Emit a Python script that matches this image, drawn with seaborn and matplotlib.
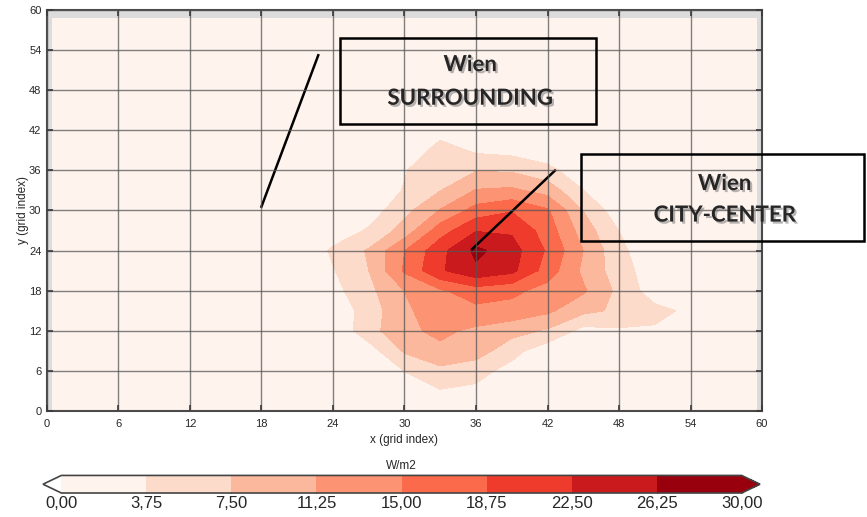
import matplotlib

matplotlib.use("Agg")
import matplotlib.patheffects as pe
import matplotlib.pyplot as plt
import numpy as np
import seaborn as sns
from matplotlib.cm import ScalarMappable
from matplotlib.colors import BoundaryNorm, ListedColormap
from matplotlib.patches import Rectangle

# grid of the model domain (grid index units)
X_COORDS = [0.5, 3, 6, 9, 12, 15, 18, 21, 24, 27, 30, 33, 36, 39, 42, 45, 48, 51, 54, 57, 59.5]
Y_COORDS = [0, 3, 6, 9, 12, 15, 18, 21, 24, 27, 30, 33, 36, 39, 42, 45, 48, 51, 54, 57, 58.7]

# non-zero part of the field (W/m2), rows = PLUME_Y, cols = PLUME_X
PLUME_X = [21, 24, 27, 30, 33, 36, 39, 42, 45, 48, 51, 54]
PLUME_Y = [0, 3, 6, 9, 12, 15, 18, 21, 24, 27, 30, 33, 36, 39, 42]
PLUME = [
    [0.0, 0.0, 0.0, 1.0, 2.0, 1.5, 0.0, 0.0, 0.0, 0.0, 0.0, 0.0],
    [0.0, 0.0, 0.5, 2.5, 3.5, 3.0, 1.5, 0.5, 0.0, 0.0, 0.0, 0.0],
    [0.0, 0.0, 1.0, 3.8, 6.5, 5.0, 2.5, 1.0, 0.0, 0.0, 0.0, 0.0],
    [0.0, 0.5, 2.0, 8.0, 10.5, 9.5, 5.0, 1.5, 1.0, 0.0, 0.0, 0.0],
    [0.0, 0.8, 6.0, 10.5, 12.0, 10.5, 9.0, 7.0, 2.5, 3.2, 3.3, 1.0],
    [0.0, 1.0, 5.5, 10.5, 13.5, 14.0, 13.5, 12.0, 8.5, 6.8, 4.8, 3.0],
    [0.0, 2.5, 6.5, 11.3, 14.5, 17.0, 16.0, 13.5, 11.8, 6.5, 1.8, 0.0],
    [0.5, 3.5, 7.5, 15.5, 22.0, 25.5, 23.5, 17.0, 10.5, 5.5, 1.5, 0.0],
    [0.0, 4.4, 7.9, 14.9, 21.3, 27.2, 24.1, 18.25, 11.25, 4.7, 1.0, 0.0],
    [0.0, 1.5, 4.2, 9.0, 17.0, 22.3, 22.0, 17.0, 9.5, 3.7, 0.5, 0.0],
    [0.0, 0.5, 1.8, 6.3, 11.5, 16.5, 18.5, 15.5, 7.4, 1.5, 0.0, 0.0],
    [0.0, 0.0, 1.0, 4.0, 7.4, 11.5, 12.0, 9.8, 3.8, 0.5, 0.0, 0.0],
    [0.0, 0.0, 0.0, 3.5, 6.5, 7.3, 7.0, 4.8, 1.5, 0.0, 0.0, 0.0],
    [0.0, 0.0, 0.0, 0.5, 5.5, 3.1, 2.5, 1.5, 0.5, 0.0, 0.0, 0.0],
    [0.0, 0.0, 0.0, 0.0, 2.0, 1.0, 0.0, 0.0, 0.0, 0.0, 0.0, 0.0],
]

LEVELS = [0, 3.75, 7.5, 11.25, 15, 18.75, 22.5, 26.25, 30]
LEVEL_LABELS = ["0,00", "3,75", "7,50", "11,25", "15,00", "18,75", "22,50", "26,25", "30,00"]
COLORS = ["#fff3ee", "#fddbcb", "#fcb89c", "#fc9373", "#fb6a4a", "#ef3b2c", "#cb1a1d", "#99000d"]
TICKS = [0, 6, 12, 18, 24, 30, 36, 42, 48, 54, 60]

# label boxes (figure fraction), text line heights and pointer lines (grid index)
BOXES = [(0.392, 0.760, 0.295, 0.166), (0.670, 0.534, 0.326, 0.168)]
LABEL_LINES = [
    [("Wien", 0.875), ("SURROUNDING", 0.810)],
    [("Wien", 0.645), ("CITY-CENTER", 0.584)],
]
POINTERS = [([17.96, 22.8], [30.4, 53.4]), ([35.6, 42.7], [24.1, 36.1])]

sns.set_theme(style="ticks")
plt.rcParams["font.family"] = ["Liberation Sans", "DejaVu Sans"]

field = np.zeros((len(Y_COORDS), len(X_COORDS)))
for i, y in enumerate(PLUME_Y):
    for j, x in enumerate(PLUME_X):
        field[Y_COORDS.index(y), X_COORDS.index(x)] = PLUME[i][j]

cmap = ListedColormap(sns.color_palette(COLORS))
cmap.set_under("white")
cmap.set_over(COLORS[-1])
norm = BoundaryNorm(LEVELS, cmap.N)

fig = plt.figure(figsize=(8.67, 5.17), dpi=100)
ax = fig.add_axes([0.0542, 0.205, 0.8247, 0.7757])
ax.set_facecolor("#dcdcdc")
ax.contourf(X_COORDS, Y_COORDS, field, levels=LEVELS, cmap=cmap, norm=norm)

ax.set_xlim(0, 60)
ax.set_ylim(0, 60)
ax.set_xticks(TICKS)
ax.set_yticks(TICKS)
ax.set_axisbelow(False)
ax.grid(True, color="#555555", lw=1.0, alpha=0.75)
for s in ax.spines.values():
    s.set_color("#4a4a4a")
    s.set_linewidth(1.5)
ax.tick_params(direction="in", length=4, width=1.2, color="#3a3a3a", top=True, right=True,
               labelsize=8)
ax.tick_params(axis="x", pad=6)
ax.tick_params(axis="y", pad=4)
ax.set_xlabel("x (grid index)", fontsize=8.5, labelpad=3)
ax.set_ylabel("y (grid index)", fontsize=8.5, labelpad=0)

for (xs, ys) in POINTERS:
    ax.plot(xs, ys, color="black", lw=1.8, solid_capstyle="butt")

shadow = [pe.withSimplePatchShadow(offset=(1.5, -1.5), shadow_rgbFace="#7a7a7a", alpha=0.55)]
for (bx, by, bw, bh), lines in zip(BOXES, LABEL_LINES):
    fig.patches.append(Rectangle((bx, by), bw, bh, transform=fig.transFigure, fill=False,
                                 edgecolor="black", lw=1.8, zorder=5))
    for text, ty in lines:
        fig.text(bx + bw / 2 + 0.003, ty, text, ha="center", va="center", fontsize=16,
                 fontweight="bold", family="Lato", path_effects=shadow, zorder=6)

cax = fig.add_axes([0.0496, 0.0464, 0.827, 0.034])
cb = fig.colorbar(ScalarMappable(norm=norm, cmap=cmap), cax=cax, orientation="horizontal",
                  extend="both", extendfrac=0.027, ticks=LEVELS)
cb.set_ticklabels(LEVEL_LABELS)
cb.outline.set_edgecolor("#444444")
cb.outline.set_linewidth(1.2)
cax.tick_params(direction="in", length=5, width=1, color="#333333", labelsize=12, pad=2)
fig.text(0.463, 0.099, "W/m2", ha="center", va="center", fontsize=8.5)

fig.savefig("out.png", dpi=100)
